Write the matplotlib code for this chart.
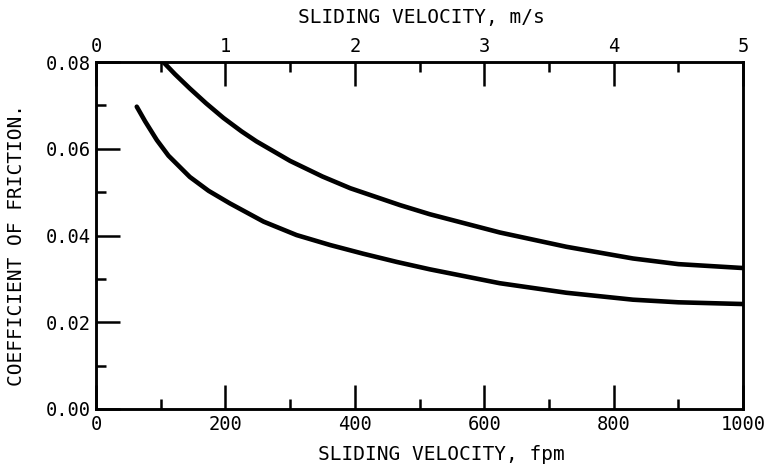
import numpy as np
import matplotlib.pyplot as plt
from matplotlib.ticker import MultipleLocator

# upper curve
upper_fpm = [104, 122, 145, 170, 197, 225, 248, 300, 350, 393, 470, 516, 624,
             727, 830, 900, 1000]
upper_cof = [0.080, 0.0772, 0.0739, 0.0705, 0.0671, 0.0640, 0.0617, 0.0572,
             0.0536, 0.0509, 0.0470, 0.0449, 0.0407, 0.0374, 0.0347, 0.0334,
             0.0325]
# lower curve
lower_fpm = [63, 76, 94, 112, 145, 174, 207, 259, 310, 362, 413, 465, 516, 624,
             727, 830, 900, 1000]
lower_cof = [0.0697, 0.0663, 0.0620, 0.0584, 0.0535, 0.0503, 0.0474, 0.0432,
             0.0401, 0.0378, 0.0358, 0.0339, 0.0322, 0.0290, 0.0268, 0.0252,
             0.0246, 0.0242]

plt.rcParams['font.family'] = 'DejaVu Sans Mono'

fig = plt.figure(figsize=(7.69, 4.72), dpi=100)
ax = fig.add_axes([96/769, 63/472, (743-96)/769, (409-62)/472])

ax.plot(upper_fpm, upper_cof, color='black', linewidth=3.3,
        solid_capstyle='round', solid_joinstyle='round')
ax.plot(lower_fpm, lower_cof, color='black', linewidth=3.3,
        solid_capstyle='round', solid_joinstyle='round')

ax.set_xlim(0, 1000)
ax.set_ylim(0, 0.08)
ax.xaxis.set_major_locator(MultipleLocator(200))
ax.xaxis.set_minor_locator(MultipleLocator(100))
ax.yaxis.set_major_locator(MultipleLocator(0.02))
ax.yaxis.set_minor_locator(MultipleLocator(0.01))
ax.yaxis.set_major_formatter(plt.FuncFormatter(lambda v, p: '%.2f' % v))
ax.tick_params(which='major', direction='in', length=17, width=1.8, labelsize=13.5, pad=4)
ax.tick_params(which='minor', direction='in', length=7, width=1.8)
ax.tick_params(top=False, right=False)

for s in ax.spines.values():
    s.set_linewidth(1.8)

# top axis in m/s
ax2 = ax.twiny()
ax2.set_xlim(0, 5)
ax2.xaxis.set_major_locator(MultipleLocator(1))
ax2.xaxis.set_minor_locator(MultipleLocator(0.5))
ax2.tick_params(which='major', direction='in', length=17, width=1.8, labelsize=13.5, pad=4)
ax2.tick_params(which='minor', direction='in', length=7, width=1.8)
for s in ax2.spines.values():
    s.set_linewidth(1.8)

fig.text(421/769, 1 - 17/472, 'SLIDING VELOCITY, m/s', ha='center', va='center', fontsize=14)
fig.text(441/769, 1 - 455/472, 'SLIDING VELOCITY, fpm', ha='center', va='center', fontsize=14)
fig.text(17/769, 1 - 245/472, 'COEFFICIENT OF FRICTION.', ha='center', va='center',
         rotation=90, fontsize=14)

fig.savefig('out.png', dpi=100)
